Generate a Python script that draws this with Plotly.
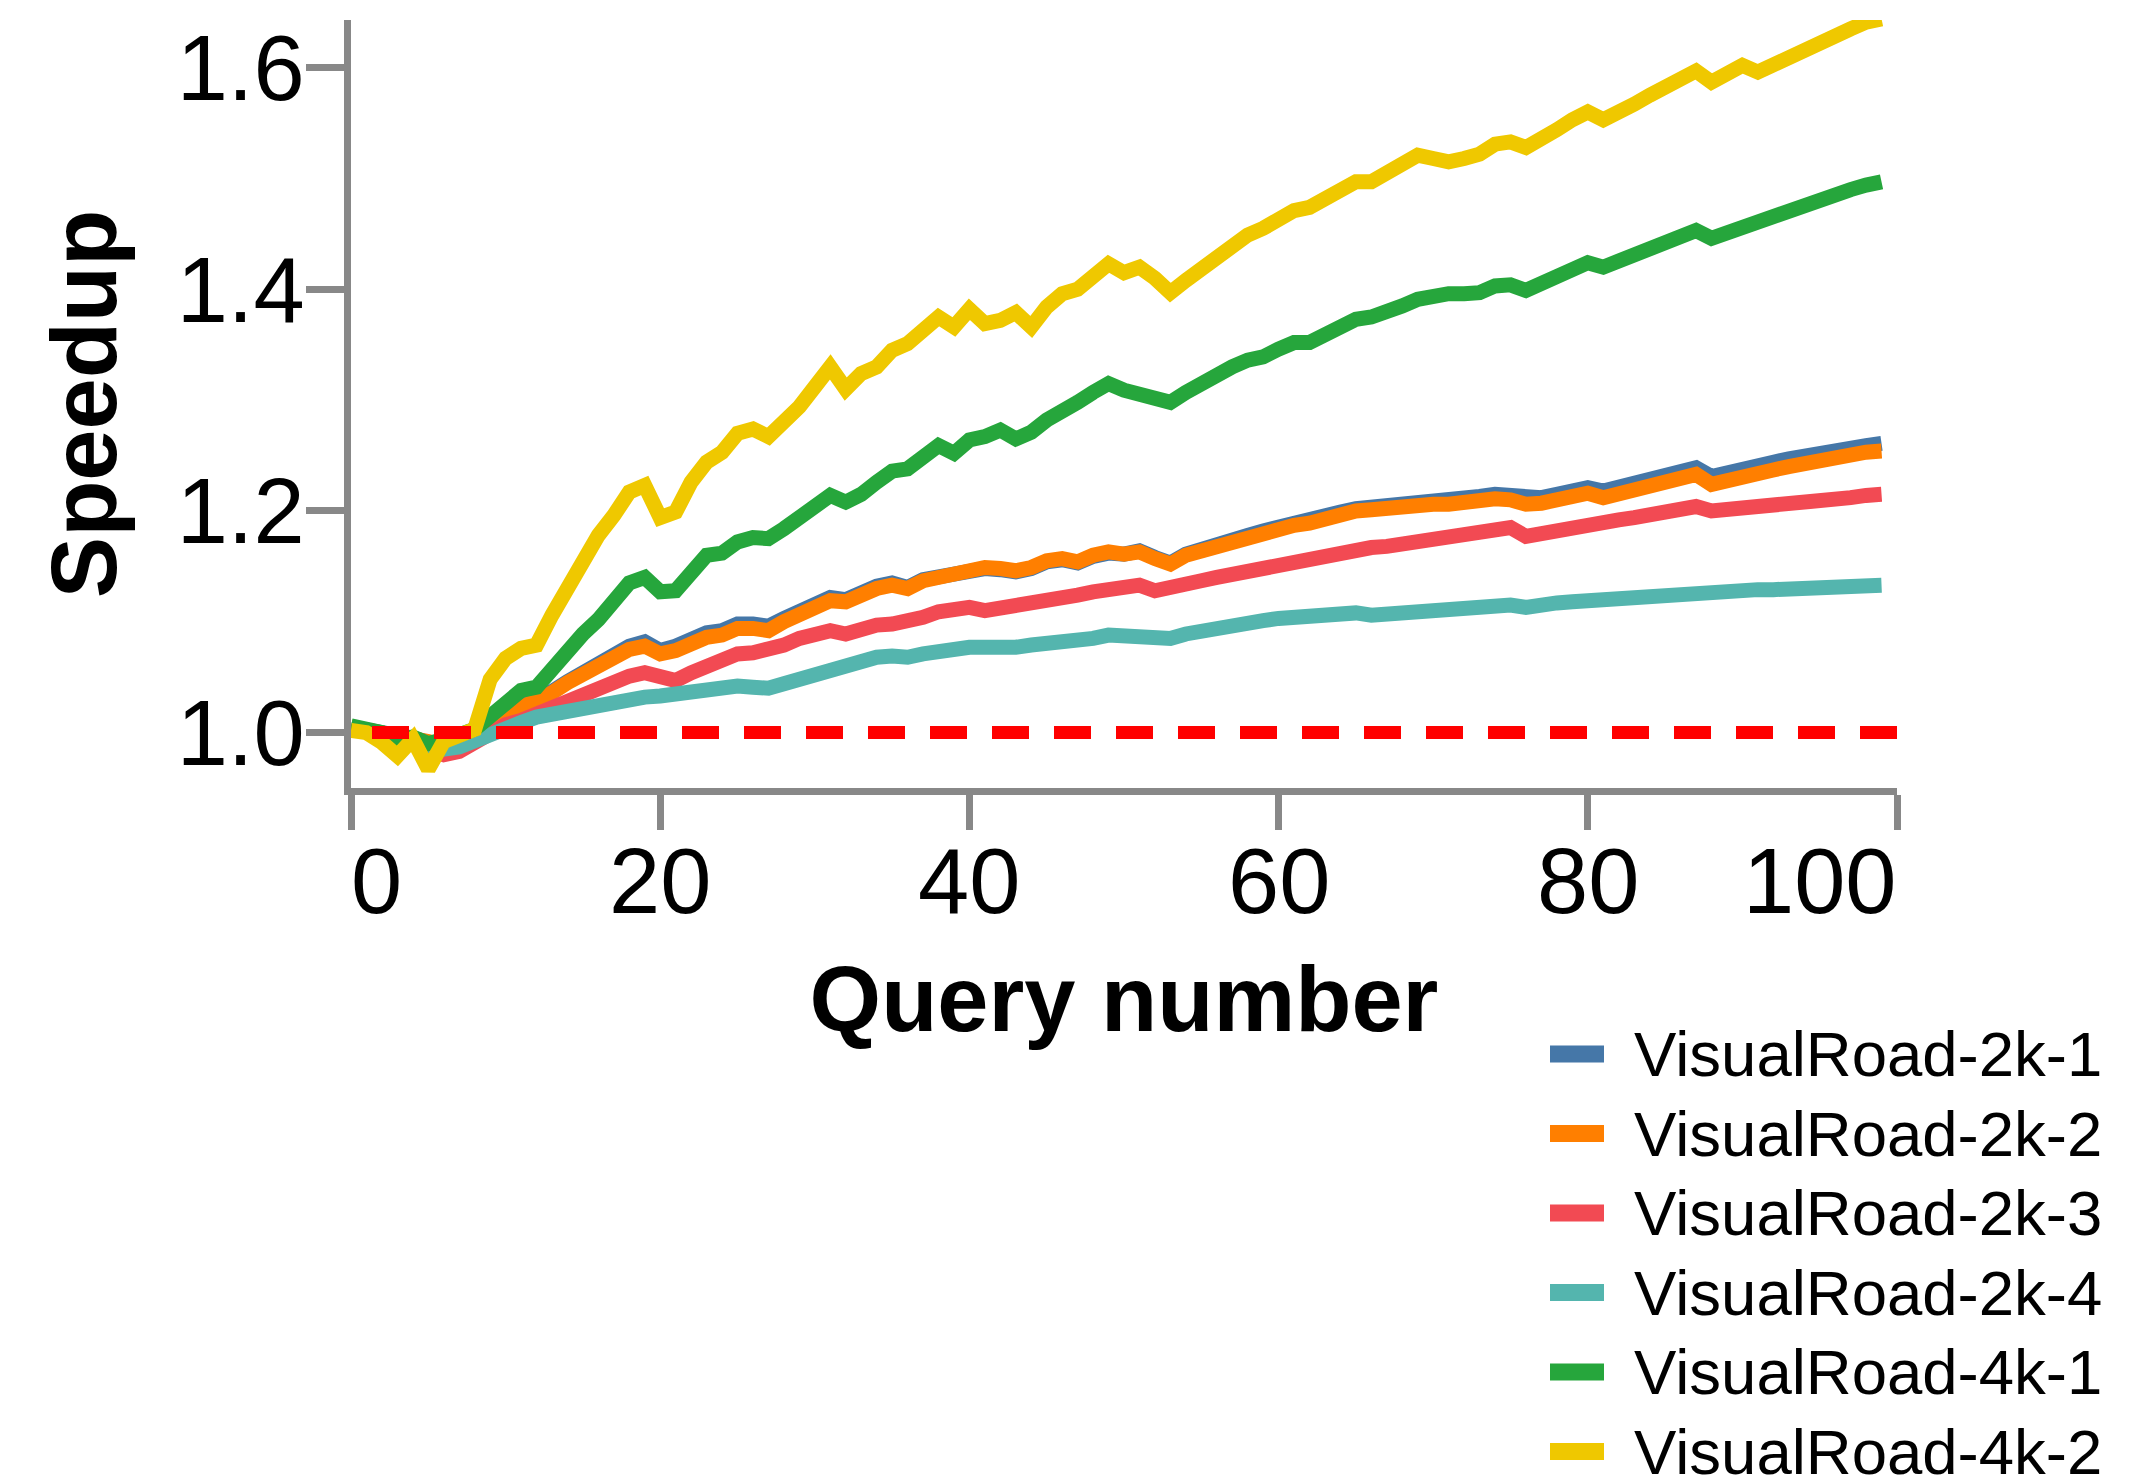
import plotly.graph_objects as go

# ---------------- data ----------------
queries = list(range(100))

series_names = ["VisualRoad-2k-1", "VisualRoad-2k-2", "VisualRoad-2k-3",
                "VisualRoad-2k-4", "VisualRoad-4k-1", "VisualRoad-4k-2"]

vr_2k_1 = [1.005, 1.003, 1.000, 0.997, 0.995, 0.991, 0.988, 0.990, 0.998, 1.010,
           1.016, 1.023, 1.030, 1.037, 1.046, 1.054, 1.062, 1.070, 1.078, 1.082,
           1.074, 1.078, 1.085, 1.090, 1.092, 1.098, 1.098, 1.096, 1.103, 1.110,
           1.117, 1.122, 1.120, 1.127, 1.132, 1.135, 1.131, 1.138, 1.140, 1.142,
           1.147, 1.148, 1.147, 1.145, 1.148, 1.154, 1.156, 1.153, 1.159, 1.162,
           1.161, 1.164, 1.158, 1.153, 1.161, 1.166, 1.171, 1.175, 1.178, 1.182,
           1.186, 1.189, 1.191, 1.195, 1.199, 1.202, 1.203, 1.205, 1.207, 1.209,
           1.209, 1.210, 1.212, 1.213, 1.215, 1.214, 1.211, 1.212, 1.215, 1.218,
           1.221, 1.218, 1.222, 1.225, 1.229, 1.232, 1.236, 1.239, 1.231, 1.235,
           1.238, 1.241, 1.244, 1.247, 1.250, 1.253, 1.255, 1.257, 1.259, 1.261]

vr_2k_2 = [1.005, 1.003, 1.000, 0.997, 0.995, 0.992, 0.988, 0.991, 0.999, 1.010,
           1.016, 1.022, 1.029, 1.036, 1.045, 1.053, 1.060, 1.068, 1.075, 1.078,
           1.071, 1.074, 1.081, 1.086, 1.088, 1.094, 1.094, 1.092, 1.100, 1.107,
           1.115, 1.119, 1.118, 1.125, 1.130, 1.133, 1.130, 1.137, 1.140, 1.142,
           1.148, 1.149, 1.148, 1.146, 1.149, 1.155, 1.157, 1.154, 1.160, 1.163,
           1.161, 1.163, 1.157, 1.152, 1.160, 1.164, 1.169, 1.173, 1.176, 1.180,
           1.184, 1.187, 1.189, 1.193, 1.197, 1.200, 1.201, 1.203, 1.205, 1.206,
           1.206, 1.206, 1.208, 1.209, 1.211, 1.210, 1.206, 1.207, 1.210, 1.213,
           1.216, 1.212, 1.216, 1.219, 1.223, 1.226, 1.230, 1.233, 1.224, 1.228,
           1.231, 1.234, 1.237, 1.240, 1.243, 1.246, 1.249, 1.251, 1.253, 1.254]

vr_2k_3 = [1.004, 1.002, 0.998, 0.994, 0.990, 0.985, 0.980, 0.983, 0.991, 1.000,
           1.007, 1.011, 1.017, 1.023, 1.029, 1.033, 1.039, 1.045, 1.051, 1.054,
           1.050, 1.047, 1.054, 1.060, 1.066, 1.071, 1.072, 1.074, 1.079, 1.085,
           1.089, 1.092, 1.089, 1.094, 1.097, 1.098, 1.100, 1.104, 1.109, 1.112,
           1.113, 1.110, 1.112, 1.113, 1.115, 1.118, 1.121, 1.124, 1.127, 1.130,
           1.131, 1.133, 1.128, 1.130, 1.134, 1.137, 1.140, 1.143, 1.146, 1.149,
           1.152, 1.155, 1.158, 1.160, 1.163, 1.165, 1.167, 1.168, 1.170, 1.172,
           1.174, 1.176, 1.179, 1.181, 1.183, 1.185, 1.177, 1.180, 1.182, 1.185,
           1.187, 1.190, 1.192, 1.194, 1.197, 1.200, 1.202, 1.204, 1.200, 1.201,
           1.202, 1.203, 1.204, 1.206, 1.208, 1.210, 1.211, 1.212, 1.214, 1.215]

vr_2k_4 = [1.004, 1.001, 0.997, 0.993, 0.990, 0.987, 0.985, 0.987, 0.993, 1.000,
           1.005, 1.009, 1.014, 1.017, 1.020, 1.023, 1.026, 1.029, 1.031, 1.032,
           1.033, 1.035, 1.038, 1.040, 1.041, 1.042, 1.041, 1.040, 1.044, 1.048,
           1.053, 1.057, 1.060, 1.065, 1.068, 1.069, 1.068, 1.071, 1.074, 1.076,
           1.077, 1.077, 1.076, 1.077, 1.079, 1.080, 1.081, 1.083, 1.085, 1.088,
           1.088, 1.088, 1.087, 1.085, 1.089, 1.092, 1.095, 1.097, 1.100, 1.101,
           1.103, 1.104, 1.106, 1.107, 1.109, 1.108, 1.106, 1.107, 1.109, 1.110,
           1.112, 1.113, 1.114, 1.115, 1.115, 1.115, 1.113, 1.116, 1.117, 1.118,
           1.119, 1.121, 1.122, 1.124, 1.125, 1.125, 1.126, 1.126, 1.127, 1.127,
           1.128, 1.129, 1.129, 1.130, 1.131, 1.131, 1.132, 1.132, 1.133, 1.133]

vr_4k_1 = [1.006, 1.004, 1.000, 0.992, 0.996, 0.990, 0.993, 0.998, 1.003, 1.015,
           1.027, 1.038, 1.041, 1.057, 1.077, 1.089, 1.102, 1.120, 1.135, 1.140,
           1.127, 1.128, 1.144, 1.160, 1.162, 1.172, 1.176, 1.175, 1.184, 1.193,
           1.205, 1.214, 1.208, 1.215, 1.226, 1.236, 1.238, 1.248, 1.259, 1.252,
           1.264, 1.267, 1.273, 1.265, 1.271, 1.282, 1.292, 1.298, 1.307, 1.315,
           1.309, 1.306, 1.303, 1.298, 1.307, 1.316, 1.322, 1.330, 1.336, 1.339,
           1.346, 1.352, 1.352, 1.360, 1.367, 1.373, 1.375, 1.379, 1.385, 1.391,
           1.394, 1.396, 1.396, 1.397, 1.403, 1.404, 1.399, 1.405, 1.411, 1.417,
           1.424, 1.420, 1.425, 1.431, 1.437, 1.442, 1.447, 1.453, 1.446, 1.451,
           1.456, 1.461, 1.467, 1.473, 1.475, 1.480, 1.485, 1.490, 1.494, 1.497]

vr_4k_2 = [1.002, 1.000, 0.991, 0.979, 0.994, 0.967, 0.992, 0.999, 1.003, 1.048,
           1.067, 1.076, 1.079, 1.106, 1.131, 1.151, 1.178, 1.196, 1.217, 1.223,
           1.194, 1.199, 1.226, 1.244, 1.253, 1.270, 1.274, 1.267, 1.280, 1.294,
           1.312, 1.330, 1.310, 1.324, 1.330, 1.345, 1.351, 1.363, 1.375, 1.366,
           1.382, 1.369, 1.372, 1.379, 1.366, 1.384, 1.396, 1.400, 1.412, 1.423,
           1.415, 1.420, 1.410, 1.397, 1.408, 1.418, 1.429, 1.441, 1.449, 1.455,
           1.465, 1.471, 1.474, 1.483, 1.492, 1.497, 1.497, 1.504, 1.513, 1.521,
           1.518, 1.515, 1.518, 1.522, 1.531, 1.533, 1.528, 1.535, 1.544, 1.553,
           1.560, 1.553, 1.559, 1.567, 1.575, 1.582, 1.589, 1.597, 1.587, 1.594,
           1.602, 1.596, 1.603, 1.609, 1.616, 1.623, 1.629, 1.635, 1.641, 1.644]

baseline_value = 1.0
x_tick_values = [0, 20, 40, 60, 80, 100]
x_tick_labels = ["0", "20", "40", "60", "80", "100"]
y_tick_values = [1.0, 1.2, 1.4, 1.6]
y_tick_labels = ["1.0", "1.2", "1.4", "1.6"]

# ---------------- style ----------------
colors = ["#4577a8", "#ff7f00", "#f24a53", "#54b5ae", "#26a63c", "#efc800"]
FONT = "Liberation Sans, Arial, Helvetica, sans-serif"
AXIS_GREY = "#888888"

PAGE_W, PAGE_H = 2147, 1481
BODY_MARGIN = 8                      # default <body> margin of the page
W, H = PAGE_W - BODY_MARGIN, PAGE_H - BODY_MARGIN

# plot area in page pixels
PX_LEFT, PX_RIGHT, PX_TOP, PX_BOTTOM = 351, 1897, 20, 788
L = PX_LEFT - BODY_MARGIN
T = PX_TOP - BODY_MARGIN
R = W - (PX_RIGHT - BODY_MARGIN)
B = H - (PX_BOTTOM - BODY_MARGIN)
PW, PH = PX_RIGHT - PX_LEFT, PX_BOTTOM - PX_TOP


def paper_x(px):
    return (px - PX_LEFT) / PW


def paper_y(py):
    return (PX_BOTTOM - py) / PH


all_series = [vr_2k_1, vr_2k_2, vr_2k_3, vr_2k_4, vr_4k_1, vr_4k_2]

fig = go.Figure()
for name, ys, col in zip(series_names, all_series, colors):
    fig.add_trace(go.Scatter(x=queries, y=ys, mode="lines", name=name,
                             line=dict(color=col, width=15),
                             showlegend=False))

# dashed reference line at speedup 1.0 (drawn right-to-left like the original)
fig.add_trace(go.Scatter(x=[x_tick_values[-1], x_tick_values[0]],
                         y=[baseline_value, baseline_value],
                         mode="lines", line=dict(color="#ff0000", width=13, dash="37px,25px"),
                         showlegend=False, hoverinfo="skip"))

annotations = []
# x tick labels (first flush-left, last flush-right)
for i, (v, lab) in enumerate(zip(x_tick_values, x_tick_labels)):
    anchor = "left" if i == 0 else ("right" if i == len(x_tick_values) - 1 else "center")
    annotations.append(dict(x=v, y=paper_y(830), xref="x", yref="paper", text=lab,
                            showarrow=False, xanchor=anchor, yanchor="top",
                            borderpad=0, borderwidth=0,
                            font=dict(family=FONT, size=92, color="black")))

# legend (drawn manually to match long, thick symbols)
shapes = []
row0, row_step = 1054.0, 79.5
for i, (name, col) in enumerate(zip(series_names, colors)):
    cy = row0 + i * row_step
    shapes.append(dict(type="line", xref="paper", yref="paper",
                       x0=paper_x(1550), x1=paper_x(1604), y0=paper_y(cy), y1=paper_y(cy),
                       line=dict(color=col, width=17)))
    annotations.append(dict(x=paper_x(1634), y=paper_y(cy), xref="paper", yref="paper",
                            text=name, showarrow=False, xanchor="left", yanchor="middle",
                            borderpad=0, borderwidth=0,
                            font=dict(family=FONT, size=63.5, color="black")))

fig.update_layout(
    width=W, height=H,
    margin=dict(l=L, r=R, t=T, b=B, autoexpand=False),
    paper_bgcolor="white", plot_bgcolor="white",
    font=dict(family=FONT, color="black"),
    showlegend=False,
    annotations=annotations,
    shapes=shapes,
    xaxis=dict(range=[0, 100], showgrid=False, zeroline=False,
               showline=True, linecolor=AXIS_GREY, linewidth=7,
               ticks="outside", ticklen=35, tickwidth=7, tickcolor=AXIS_GREY,
               tickvals=x_tick_values, showticklabels=False,
               title=dict(text="Query number", standoff=140,
                          font=dict(family=FONT, size=92, color="black", weight="bold"))),
    yaxis=dict(range=[0.95, 1.643], showgrid=False, zeroline=False,
               showline=True, linecolor=AXIS_GREY, linewidth=7,
               ticks="outside", ticklen=38, tickwidth=7, tickcolor=AXIS_GREY,
               tickvals=y_tick_values, ticktext=y_tick_labels,
               ticklabelstandoff=-17,
               tickfont=dict(family=FONT, size=92, color="black"),
               title=dict(text="Speedup", standoff=32,
                          font=dict(family=FONT, size=92, color="black", weight="bold"))),
)

fig.write_html("out.html")
